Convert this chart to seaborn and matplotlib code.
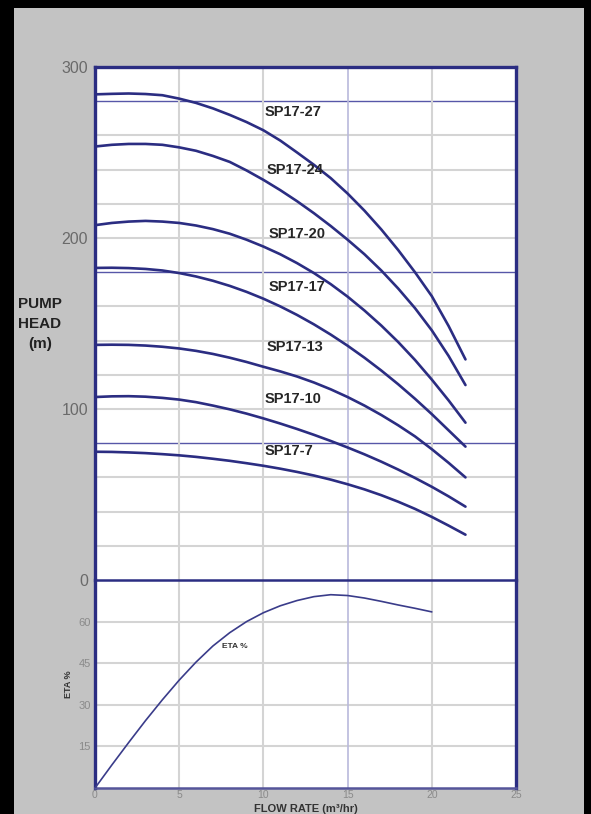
import numpy as np
import pandas as pd
import matplotlib
matplotlib.use("Agg")
import matplotlib.pyplot as plt
import seaborn as sns
from matplotlib.patches import Rectangle

# ---------------- data ----------------
flow = list(range(0, 23))
models = ["SP17-27", "SP17-24", "SP17-20", "SP17-17", "SP17-13", "SP17-10", "SP17-7"]
head_27 = [284, 284.3, 284.5, 284.2, 283.5, 281.5, 279, 275.8, 272, 267.8, 263,
           257, 250, 242.8, 235, 226, 216, 205, 193, 180, 166, 148.5, 129]
head_24 = [253.5, 254.5, 255, 255, 254.5, 253, 251, 248, 244.5, 239.5, 234,
           228, 221.5, 214.5, 207, 199, 190.5, 181, 170.5, 159, 146, 131, 114]
head_20 = [207.5, 208.8, 209.6, 210, 209.6, 208.8, 207.3, 205.2, 202.5, 199, 195,
           190.5, 185.3, 179.5, 173, 165.7, 157.6, 148.8, 139.2, 128.7, 117.2, 105, 92]
head_17 = [182.5, 182.6, 182.4, 181.9, 181, 179.5, 177.5, 175, 172, 168.5, 164.5,
           160, 155, 149.5, 143.5, 137, 130, 122.5, 114.5, 106, 97, 87.5, 78]
head_13 = [137.5, 137.6, 137.5, 137.1, 136.4, 135.4, 134, 132.2, 130, 127.5, 124.7,
           122, 119, 115.5, 111.5, 107, 102, 96.5, 90.5, 84, 76.5, 68.5, 60]
head_10 = [107, 107.4, 107.5, 107.2, 106.5, 105.5, 104, 102, 99.8, 97.3, 94.5,
           91.5, 88.3, 84.9, 81.3, 77.5, 73.5, 69.2, 64.6, 59.7, 54.5, 48.9, 42.9]
head_7 = [75, 74.9, 74.6, 74.2, 73.6, 72.9, 72, 70.9, 69.7, 68.3, 66.8,
          65.1, 63.2, 61.1, 58.7, 56.0, 53.0, 49.6, 45.8, 41.6, 36.9, 31.8, 26.5]
heads = [head_27, head_24, head_20, head_17, head_13, head_10, head_7]

eta_flow = list(range(0, 21))
eta_vals = [0, 8.3, 16.4, 24.3, 31.8, 38.9, 45.4, 51.2, 56, 60, 63.2,
            65.7, 67.6, 69, 69.7, 69.4, 68.5, 67.3, 66, 64.8, 63.5]

head_ticks = [0, 100, 200, 300]
eta_ticks = [15, 30, 45, 60]
flow_ticks = [0, 5, 10, 15, 20, 25]

df = pd.DataFrame({
    "model": np.repeat(models, len(flow)),
    "flow": flow * len(models),
    "head": np.concatenate(heads),
})
df_eta = pd.DataFrame({"flow": eta_flow, "eta": eta_vals})

# ---------------- style ----------------
sns.set_style("white")
plt.rcParams["font.family"] = ["Liberation Sans", "DejaVu Sans"]

NAVY = "#2b2d82"
GRID = "#d4d4d4"
BLUEGRID = "#5757a8"
LIGHTBLUE = "#b9b9dc"
BG = "#c3c3c3"

W, H = 591, 814
fig = plt.figure(figsize=(W / 100, H / 100), dpi=100)
fig.patch.set_facecolor("black")
fig.add_artist(Rectangle((14 / W, 0), (584 - 14) / W, (H - 8) / H,
                         transform=fig.transFigure, facecolor=BG,
                         edgecolor="none", zorder=-5))

left = 95 / W
width = (516 - 95) / W
ax = fig.add_axes([left, (H - 580) / H, width, (580 - 67) / H])
ax2 = fig.add_axes([left, (H - 788) / H, width, (788 - 580) / H])

# ---------------- head panel ----------------
ax.set_facecolor("white")
ax.set_xlim(0, 25)
ax.set_ylim(0, 300)
for v in range(20, 300, 20):
    if v in (80, 180, 280):
        ax.axhline(v, color=BLUEGRID, lw=1.0, zorder=1)
    else:
        ax.axhline(v, color=GRID, lw=1.5, zorder=1)
for v in (5, 10, 20):
    ax.axvline(v, color=GRID, lw=1.5, zorder=1)
ax.axvline(15, color=LIGHTBLUE, lw=1.2, zorder=1)

sns.lineplot(data=df, x="flow", y="head", units="model", estimator=None,
             color=NAVY, lw=1.9, sort=False, ax=ax, zorder=3, legend=False)

label_pos = [(10.1, 273.5), (10.2, 240), (10.3, 202.5), (10.3, 171.5),
             (10.2, 136.5), (10.1, 106), (10.1, 75.5)]
for name, (lx, ly) in zip(models, label_pos):
    ax.text(lx, ly, name, fontsize=10.5, fontweight="bold", color="#262626",
            ha="left", va="center", zorder=4)

ax.set_yticks(head_ticks)
ax.set_yticklabels([str(t) for t in head_ticks], fontsize=11.5, color="#6a6a6a")
ax.set_xticks([])
ax.tick_params(axis="y", length=0, pad=5)
ax.set_xlabel("")
ax.set_ylabel("")
for s in ("left", "top", "right"):
    ax.spines[s].set_color(NAVY)
    ax.spines[s].set_linewidth(2.4)
ax.spines["bottom"].set_visible(False)

fig.text(40 / W, 1 - 324 / H, "PUMP\nHEAD\n(m)", ha="center", va="center",
         fontsize=11, fontweight="bold", color="#222222", linespacing=1.55)

# ---------------- efficiency panel ----------------
ax2.set_facecolor("white")
ax2.set_xlim(0, 25)
ax2.set_ylim(0, 75)
for v in eta_ticks:
    ax2.axhline(v, color=GRID, lw=1.5, zorder=1)
for v in (5, 10, 20):
    ax2.axvline(v, color=GRID, lw=1.5, zorder=1)
ax2.axvline(15, color=LIGHTBLUE, lw=1.2, zorder=1)

sns.lineplot(data=df_eta, x="flow", y="eta", color="#3a3c8a", lw=1.2,
             ax=ax2, zorder=3, legend=False)
ax2.text(7.55, 51, "ETA %", fontsize=6, fontweight="bold", color="#333333",
         ha="left", va="center")

ax2.set_yticks(eta_ticks)
ax2.set_yticklabels([str(t) for t in eta_ticks], fontsize=8, color="#8a8a8a")
ax2.set_xticks(flow_ticks)
ax2.set_xticklabels([str(t) for t in flow_ticks], fontsize=7.5, color="#8a8a8a")
ax2.tick_params(axis="y", length=0, pad=3)
ax2.tick_params(axis="x", length=0, pad=1.5)
ax2.set_xlabel("")
ax2.set_ylabel("ETA %", fontsize=6.5, fontweight="bold", color="#333333",
               labelpad=4)
ax2.spines["top"].set_color(NAVY)
ax2.spines["top"].set_linewidth(1.8)
for s in ("left", "right"):
    ax2.spines[s].set_color(NAVY)
    ax2.spines[s].set_linewidth(2.4)
ax2.spines["bottom"].set_color("#55559a")
ax2.spines["bottom"].set_linewidth(1.8)

fig.text(306 / W, 1 - 808.5 / H, "FLOW RATE (m³/hr)", ha="center", va="center",
         fontsize=8, fontweight="bold", color="#333333")

fig.savefig("out.png", dpi=100, facecolor=fig.get_facecolor())
